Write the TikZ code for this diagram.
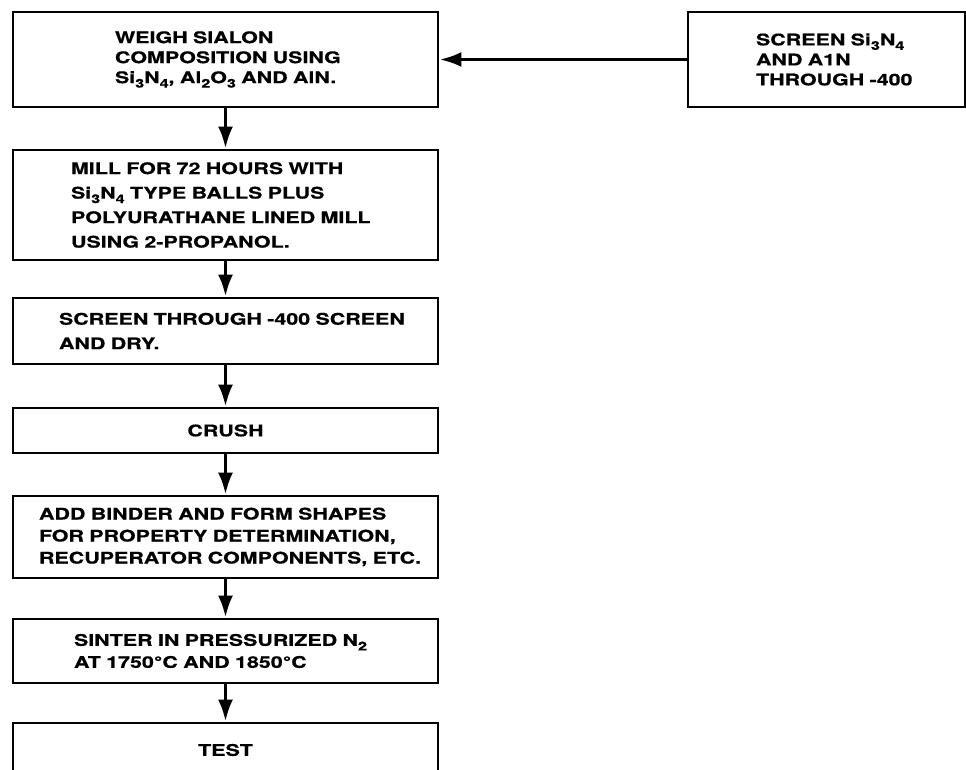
\documentclass[tikz,border=0pt]{standalone}
\usepackage{fontspec}
\usepackage{tikz}
\usetikzlibrary{arrows.meta}
\newfontfamily\flowfont[FakeStretch=1.34,FakeBold=0.6]{TeX Gyre Heros}
\newcommand\lowidx[1]{\raisebox{-4.5pt}{\fontsize{12}{12}\selectfont#1}}

\tikzset{
  stepbox/.style={draw,rectangle,line width=2.8pt,inner xsep=0pt,inner ysep=2pt,
    align=left,font=\flowfont\bfseries\fontsize{16}{22}\selectfont},
  tightlines/.style={font=\flowfont\bfseries\fontsize{16}{20}\selectfont},
  widelines/.style={font=\flowfont\bfseries\fontsize{16}{24.5}\selectfont},
  pad/.style={execute at begin node={\leftskip=#1\relax}},
  flow/.style={line width=3.6pt,-{Latex[length=22pt,width=15pt]}}
}

\begin{document}
\begin{tikzpicture}[x=1pt,y=-1pt]
  \useasboundingbox (0,0) rectangle (966,770);
  \fill[white] (0,0) rectangle (966,770);
  \clip (0,0) rectangle (966,770);

  % main column of process steps
  \node[stepbox,tightlines,text width=425pt,minimum height=95pt,pad=102pt] (weigh) at (225.5,59.5)
    {WEIGH SIALON\\
     COMPOSITION USING\\
     Si\lowidx{3}N\lowidx{4}, Al\lowidx{2}O\lowidx{3} AND AlN.};
  \node[stepbox,widelines,text width=425pt,minimum height=110pt,pad=58pt] (mill) at (225.5,205)
    {MILL FOR 72 HOURS WITH\\
     Si\lowidx{3}N\lowidx{4} TYPE BALLS PLUS\\
     POLYURATHANE LINED MILL\\
     USING 2-PROPANOL.};
  \node[stepbox,widelines,text width=425pt,minimum height=66pt,pad=46pt] (sieve) at (225.5,331)
    {SCREEN THROUGH -400 SCREEN\\
     AND DRY.};
  \node[stepbox,text width=425pt,minimum height=45pt,align=center] (crush) at (225.5,430.5) {CRUSH};
  \node[stepbox,text width=425pt,minimum height=82pt,pad=26pt] (form) at (225.5,537)
    {ADD BINDER AND FORM SHAPES\\
     FOR PROPERTY DETERMINATION,\\
     RECUPERATOR COMPONENTS, ETC.};
  \node[stepbox,text width=425pt,minimum height=64pt,pad=61pt] (sinter) at (225.5,651)
    {SINTER IN PRESSURIZED N\lowidx{2}\\
     AT 1750°C AND 1850°C};
  \node[stepbox,text width=425pt,minimum height=54pt,align=center] (test) at (225.5,750) {TEST};

  % powder screening feeds the weighing step
  \node[stepbox,tightlines,text width=277pt,minimum height=95pt,pad=68pt] (screen) at (826.5,59.5)
    {SCREEN Si\lowidx{3}N\lowidx{4}\\
     AND A1N\\
     THROUGH -400};

  \draw[flow] (screen.west) -- (weigh.east);
  \draw[flow] (weigh) -- (mill);
  \draw[flow] (mill) -- (sieve);
  \draw[flow] (sieve) -- (crush);
  \draw[flow] (crush) -- (form);
  \draw[flow] (form) -- (sinter);
  \draw[flow] (sinter) -- (test);
\end{tikzpicture}
\end{document}
